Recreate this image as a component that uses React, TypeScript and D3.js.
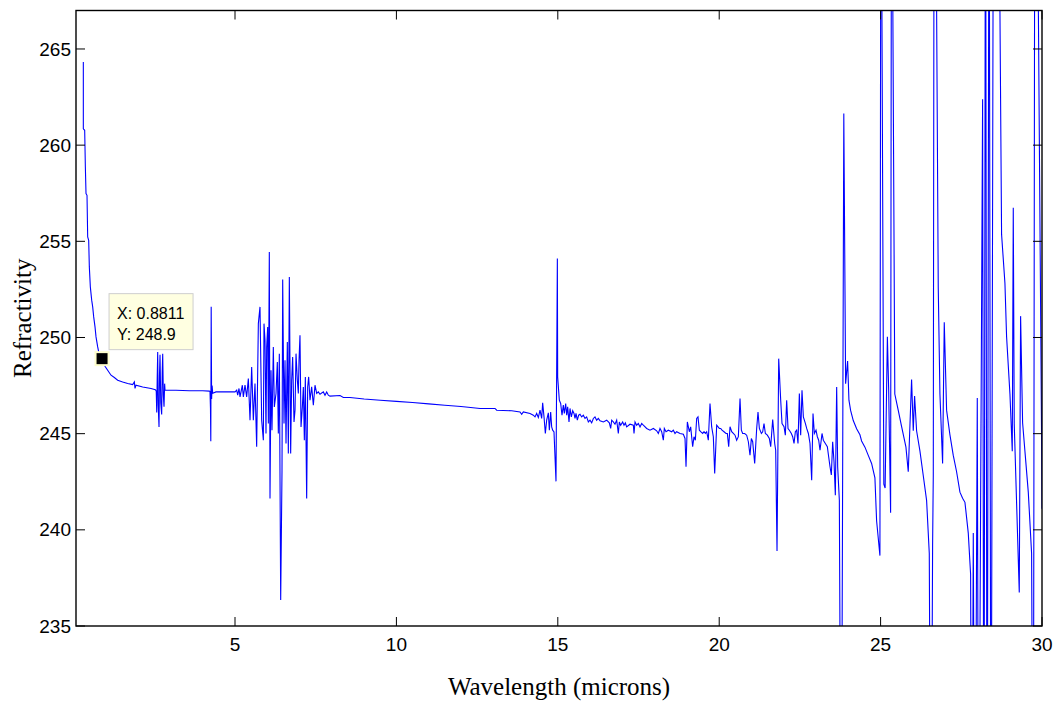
import React from 'react';
import * as d3 from 'd3';

const W = 1055;
const H = 703;
const plot = { left: 76, right: 1042, top: 10.5, bottom: 626 };

const xDomain: [number, number] = [0.074, 30];
const yDomain: [number, number] = [235, 267];
const xTicks = [5, 10, 15, 20, 25, 30];
const yTicks = [235, 240, 245, 250, 255, 260, 265];
const xLabel = 'Wavelength (microns)';
const yLabel = 'Refractivity';
const tipPoint = { x: 0.8811, y: 248.9 };

// Values (wavelength in microns, refractivity)
const segStart: [number, number][] = [
  [0.301, 264.32], [0.301, 260.85], [0.343, 260.77], [0.364, 258.86], [0.384, 257.48], [0.415, 257.39],
  [0.436, 255.23], [0.467, 255.05], [0.487, 253.67], [0.518, 252.63], [0.56, 251.94], [0.591, 251.59],
  [0.622, 251.07], [0.663, 250.55], [0.694, 250.03], [0.746, 249.51], [0.797, 249.08], [0.8811, 248.9],
  [0.952, 248.56], [1.055, 248.3], [1.159, 248.04], [1.262, 247.92], [1.365, 247.78], [1.52, 247.69],
  [1.675, 247.61], [1.83, 247.55], [1.882, 247.69], [1.902, 247.35], [1.933, 247.52], [2.14, 247.43],
  [2.398, 247.35], [2.532, 247.29],
];

const segNear3: [number, number][] = [
  [2.56, 247.2], [2.575, 246.1], [2.59, 247.9], [2.605, 249.25], [2.62, 246.5], [2.646, 245.35],
  [2.66, 248.0], [2.677, 249.1], [2.7, 246.6], [2.728, 246.0], [2.745, 248.2], [2.76, 249.16],
  [2.78, 247.0], [2.801, 246.4], [2.82, 247.6], [2.832, 247.26], [2.862, 247.26], [3.172, 247.26],
  [3.585, 247.23], [3.998, 247.23], [4.205, 247.21], [4.225, 247.2], [4.24, 246.3], [4.25, 244.6],
  [4.262, 251.6], [4.275, 246.8], [4.29, 247.5], [4.31, 247.1], [4.411, 247.17], [4.721, 247.17],
];

const segCluster: [number, number][] = [
  [4.845, 247.17], [5.0, 247.17], [5.052, 247.26], [5.083, 247.0], [5.124, 247.35], [5.155, 246.91],
  [5.186, 247.17], [5.227, 247.52], [5.258, 246.91], [5.31, 247.52], [5.361, 246.91], [5.413, 247.87],
  [5.465, 245.7], [5.516, 248.47], [5.568, 245.7], [5.619, 247.61], [5.671, 244.32], [5.723, 250.72],
  [5.774, 251.59], [5.826, 245.7], [5.878, 244.66], [5.898, 250.72], [5.929, 249.86], [5.96, 245.01],
  [5.981, 249.51], [6.012, 250.55], [6.033, 245.53], [6.063, 254.45], [6.084, 241.63], [6.115, 248.3],
  [6.146, 245.18], [6.187, 249.51], [6.218, 246.39], [6.27, 247.09], [6.311, 248.73], [6.342, 245.01],
  [6.373, 249.16], [6.415, 236.35], [6.456, 243.1], [6.477, 253.01], [6.518, 245.53], [6.549, 248.82],
  [6.58, 244.49], [6.621, 249.77], [6.652, 243.97], [6.683, 253.15], [6.724, 243.97], [6.755, 247.78],
  [6.786, 248.99], [6.828, 245.61], [6.859, 246.22], [6.89, 249.16], [6.931, 247.78], [6.962, 247.09],
  [6.983, 248.82], [7.013, 250.12], [7.045, 245.35], [7.086, 246.39], [7.117, 247.43], [7.148, 244.66],
  [7.179, 247.95], [7.22, 241.63], [7.251, 247.43], [7.282, 247.95], [7.323, 246.74], [7.375, 247.43],
  [7.427, 246.48], [7.478, 247.52], [7.53, 247.09], [7.581, 247.17], [7.633, 247.05], [7.736, 247.17],
  [7.788, 247.0], [7.84, 247.17], [7.891, 247.0], [7.943, 246.95], [8.253, 246.98], [8.356, 246.88],
  [8.563, 246.88],
];

const segMiddle: [number, number][] = [
  [9.0, 246.8], [9.5, 246.74], [10.0, 246.68], [10.5, 246.62], [11.0, 246.55], [11.5, 246.48],
  [12.0, 246.41], [12.3, 246.36],
];

const segBefore15: [number, number][] = [
  [12.59, 246.31], [13.055, 246.31], [13.106, 246.22], [13.571, 246.19], [13.829, 246.13], [13.881, 246.01],
  [13.932, 246.13], [14.139, 246.05], [14.242, 245.96], [14.294, 245.87], [14.345, 246.05], [14.397, 245.84],
  [14.449, 246.22], [14.5, 245.79], [14.531, 246.6], [14.573, 245.87], [14.614, 245.01], [14.655, 245.7],
  [14.707, 246.08], [14.738, 245.18], [14.779, 246.13], [14.81, 245.35], [14.841, 245.18], [14.882, 245.09],
  [14.944, 242.52], [14.986, 254.1],
];

const segAfter15: [number, number][] = [
  [14.996, 247.95], [15.047, 246.74], [15.089, 246.57], [15.13, 245.96], [15.171, 246.48], [15.202, 246.05],
  [15.244, 246.57], [15.275, 245.96], [15.306, 246.39], [15.347, 245.61], [15.378, 246.31], [15.419, 245.87],
  [15.461, 246.19], [15.502, 246.05], [15.533, 245.79], [15.564, 246.05], [15.605, 245.7], [15.646, 245.96],
  [15.688, 246.01], [15.739, 245.87], [15.791, 245.96], [15.843, 245.79], [15.894, 245.87], [15.946, 245.61],
  [15.997, 245.7], [16.049, 245.56], [16.101, 245.79], [16.152, 245.87], [16.204, 245.7], [16.256, 245.79],
  [16.307, 245.67], [16.411, 245.61], [16.514, 245.7], [16.596, 245.56], [16.638, 245.27], [16.669, 245.7],
  [16.72, 245.61], [16.772, 245.49], [16.824, 245.7], [16.875, 245.01], [16.906, 245.61], [16.948, 245.44],
  [17.009, 245.61], [17.051, 245.44], [17.092, 245.56], [17.133, 245.35], [17.237, 245.49], [17.34, 245.44],
  [17.361, 245.01], [17.392, 245.61], [17.443, 245.44], [17.495, 245.53], [17.547, 245.35], [17.598, 245.53],
  [17.65, 245.44], [17.753, 245.27], [17.856, 245.18], [17.96, 245.27], [18.063, 245.15], [18.114, 245.01],
  [18.166, 245.27], [18.218, 245.1], [18.269, 244.66], [18.3, 245.27], [18.352, 245.1], [18.424, 245.18],
  [18.528, 245.1], [18.579, 245.18], [18.631, 245.01], [18.682, 245.1], [18.786, 245.01], [18.889, 244.97],
  [18.941, 244.75], [18.972, 243.28], [19.013, 245.61], [19.075, 245.1], [19.116, 245.35], [19.178, 244.32],
  [19.219, 244.84], [19.261, 244.66], [19.302, 245.79], [19.343, 245.87], [19.385, 245.18], [19.426, 245.1],
  [19.488, 245.01], [19.529, 245.1], [19.571, 245.01], [19.612, 245.1], [19.663, 244.66], [19.715, 246.57],
  [19.767, 245.35], [19.818, 244.84], [19.86, 242.93], [19.922, 245.44], [20.004, 245.27],
];

const segTo24: [number, number][] = [
  [20.046, 245.27], [20.087, 245.18], [20.149, 245.1], [20.211, 245.01], [20.252, 245.01], [20.294, 244.32],
  [20.335, 245.36], [20.387, 245.1], [20.438, 245.01], [20.49, 244.92], [20.541, 244.66], [20.593, 244.84],
  [20.645, 246.83], [20.686, 245.18], [20.727, 245.01], [20.789, 245.01], [20.851, 244.92], [20.903, 244.58],
  [20.954, 243.88], [20.996, 244.75], [21.037, 244.58], [21.099, 243.45], [21.161, 245.27], [21.202, 246.13],
  [21.244, 245.27], [21.306, 245.01], [21.347, 245.1], [21.388, 245.53], [21.43, 245.01], [21.492, 244.92],
  [21.553, 244.75], [21.595, 244.32], [21.657, 245.74], [21.719, 244.49], [21.75, 244.14], [21.791, 238.9],
  [21.843, 248.9], [21.905, 246.74], [21.946, 245.53], [22.008, 245.36], [22.049, 244.92], [22.09, 246.74],
  [22.132, 245.27], [22.173, 245.18], [22.235, 245.01], [22.276, 244.84], [22.318, 244.49], [22.359, 245.1],
  [22.4, 245.18], [22.441, 244.49], [22.483, 247.09], [22.524, 244.92], [22.565, 247.26], [22.607, 245.87],
  [22.669, 245.53], [22.71, 245.27], [22.762, 245.01], [22.813, 244.49], [22.865, 242.58], [22.906, 246.05],
  [22.948, 245.01], [22.999, 245.18], [23.04, 244.84], [23.082, 244.66], [23.123, 244.14], [23.185, 245.01],
  [23.226, 244.66], [23.288, 244.49], [23.35, 244.32], [23.391, 243.8], [23.433, 243.28], [23.474, 242.85],
  [23.515, 244.58], [23.557, 243.54], [23.598, 241.8], [23.639, 247.43], [23.67, 243.28], [23.722, 241.54],
  [23.78, 220], [23.86, 261.64],
];

const segTail: [number, number][] = [
  [23.916, 247.6], [23.978, 248.77], [24.019, 246.74], [24.071, 246.21], [24.153, 245.68], [24.257, 245.26],
  [24.36, 244.94], [24.411, 244.62], [24.515, 244.3], [24.618, 243.87], [24.721, 243.45], [24.824, 242.7],
  [24.876, 240.47], [24.979, 238.66], [25.01, 280], [25.1, 242.38], [25.14, 242.17], [25.21, 250.04],
  [25.25, 247.28], [25.31, 240.89], [25.34, 280], [25.44, 247.06], [25.547, 246.21], [25.651, 245.36],
  [25.785, 244.3], [25.857, 243.02], [25.96, 247.81], [26.012, 245.15], [26.053, 246.96], [26.115, 245.15],
  [26.219, 244.09], [26.322, 242.81], [26.425, 241.53], [26.508, 238.77], [26.56, 220], [26.611, 239.19],
  [26.632, 242.81], [26.66, 280], [26.69, 280], [26.786, 252.6], [26.838, 247.06], [26.921, 243.45],
  [26.972, 250.79], [27.045, 246.21], [27.148, 244.94], [27.251, 243.87], [27.354, 243.02], [27.458, 241.96],
  [27.54, 241.64], [27.613, 241.43], [27.716, 239.83], [27.788, 237.7], [27.829, 220], [27.871, 239.83],
  [27.922, 220], [27.995, 246.85], [28.036, 220], [28.16, 262.38], [28.2, 220], [28.25, 280],
  [28.3, 220], [28.36, 280], [28.42, 220], [28.5, 280], [28.64, 280], [28.748, 255.36],
  [28.852, 252.81], [28.903, 250.04], [29.007, 247.06], [29.079, 244.09], [29.11, 256.74], [29.14, 245.5],
  [29.296, 236.74], [29.337, 251.11], [29.399, 245.57], [29.471, 244.09], [29.575, 241.96], [29.678, 238.77],
  [29.73, 220], [29.78, 280], [29.83, 280], [29.99, 244.09], [30.0, 241.1],
];

const series: [number, number][] = [
  ...segStart, ...segNear3, ...segCluster, ...segMiddle, ...segBefore15,
  ...segAfter15, ...segTo24, ...segTail,
];

const sans = '"Liberation Sans", Arial, Helvetica, sans-serif';
const serif = '"Liberation Serif", "Times New Roman", Times, serif';

export default function App() {
  const x = d3.scaleLinear().domain(xDomain).range([plot.left, plot.right]);
  const y = d3.scaleLinear().domain(yDomain).range([plot.bottom, plot.top]);
  const line = d3
    .line<[number, number]>()
    .x((d) => x(d[0]))
    .y((d) => y(d[1]));
  const path = line(series) || '';
  const tickLen = 9;
  const mx = x(tipPoint.x);
  const my = y(tipPoint.y);

  return (
    <svg
      width={W}
      height={H}
      style={{ position: 'absolute', left: 0, top: 0, background: '#fff' }}
    >
      <defs>
        <clipPath id="plotClip">
          <rect x={plot.left} y={plot.top} width={plot.right - plot.left} height={plot.bottom - plot.top} />
        </clipPath>
      </defs>
      <rect x={0} y={0} width={W} height={H} fill="#fff" />
      <path d={path} fill="none" stroke="#0000ff" strokeWidth={1.1} clipPath="url(#plotClip)" />

      {/* ticks */}
      {xTicks.map((t) => (
        <g key={'xt' + t}>
          <line x1={x(t)} x2={x(t)} y1={plot.bottom} y2={plot.bottom - tickLen} stroke="#000" strokeWidth={1} />
          <line x1={x(t)} x2={x(t)} y1={plot.top} y2={plot.top + tickLen} stroke="#000" strokeWidth={1} />
          <text x={x(t)} y={651} fontFamily={sans} fontSize={19} textAnchor="middle" fill="#000">
            {t}
          </text>
        </g>
      ))}
      {yTicks.map((t) => (
        <g key={'yt' + t}>
          <line x1={plot.left} x2={plot.left + tickLen} y1={y(t)} y2={y(t)} stroke="#000" strokeWidth={1} />
          <line x1={plot.right} x2={plot.right - tickLen} y1={y(t)} y2={y(t)} stroke="#000" strokeWidth={1} />
          <text x={71} y={y(t)} dy="0.35em" fontFamily={sans} fontSize={19} textAnchor="end" fill="#000">
            {t}
          </text>
        </g>
      ))}

      <rect
        x={plot.left}
        y={plot.top}
        width={plot.right - plot.left}
        height={plot.bottom - plot.top}
        fill="none"
        stroke="#000"
        strokeWidth={1.4}
      />

      {/* axis labels */}
      <text x={(plot.left + plot.right) / 2} y={695} fontFamily={serif} fontSize={25} textAnchor="middle" fill="#000">
        {xLabel}
      </text>
      <text
        transform={`translate(31, ${(plot.top + plot.bottom) / 2}) rotate(-90)`}
        fontFamily={serif}
        fontSize={25}
        textAnchor="middle"
        fill="#000"
      >
        {yLabel}
      </text>

      {/* data tip */}
      <rect x={mx + 7} y={my - 65} width={84} height={56} fill="#ffffe1" stroke="#cfcfcf" strokeWidth={1} />
      <text x={mx + 15} y={my - 40} fontFamily={sans} fontSize={16} fill="#000">
        {`X: ${tipPoint.x}`}
      </text>
      <text x={mx + 15} y={my - 19} fontFamily={sans} fontSize={16} fill="#000">
        {`Y: ${tipPoint.y}`}
      </text>
      <rect x={mx - 6.5} y={my - 6.5} width={13} height={13} fill="#000" stroke="#ffffcc" strokeWidth={2} />
    </svg>
  );
}
